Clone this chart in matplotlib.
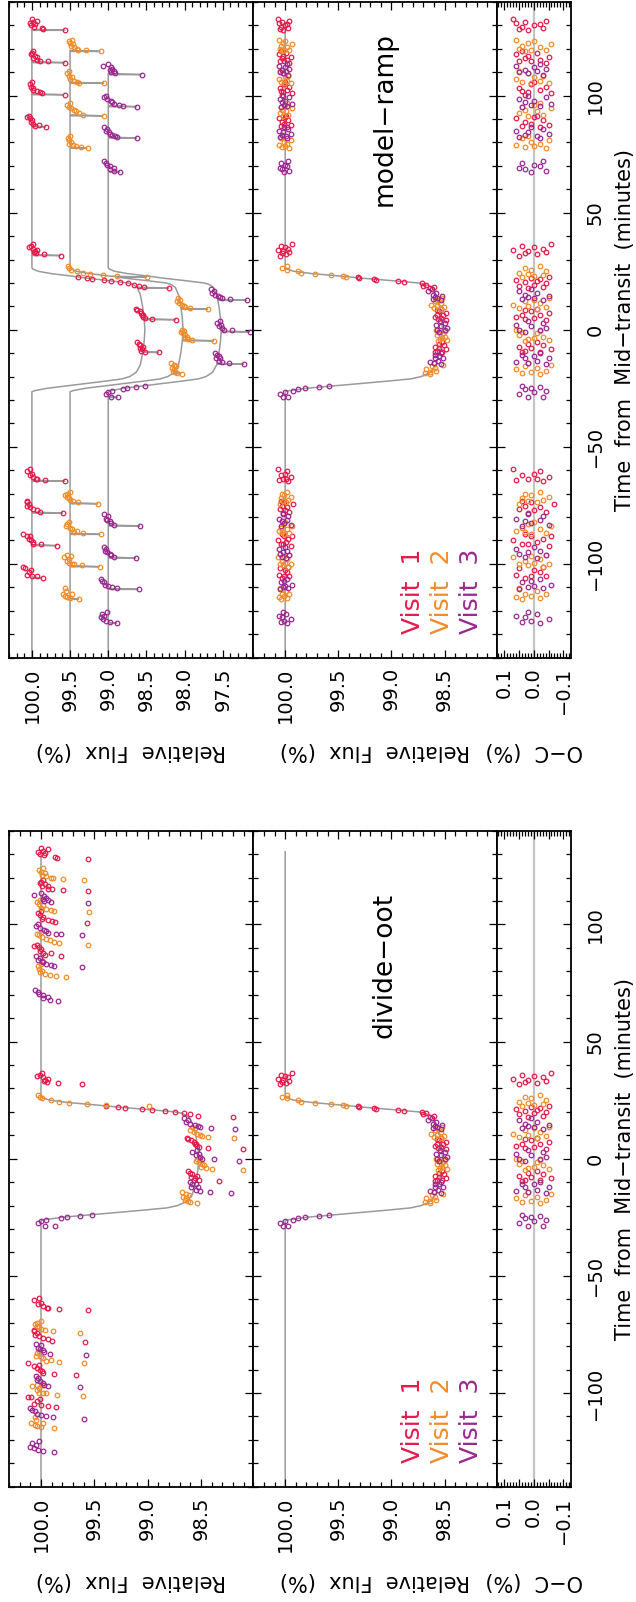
import numpy as np
import matplotlib
matplotlib.use("Agg")
import matplotlib.pyplot as plt
from matplotlib.ticker import MultipleLocator, FormatStrFormatter

plt.rcParams['font.family'] = ['DejaVu Sans']
plt.rcParams['axes.unicode_minus'] = True

# ---- transit model (time from mid-transit in min, relative flux in %) ----
mod_t = [-140, -26.5, -26, -25, -24, -23, -22, -21, -20, -19, -18, -15, -10, -5, 0,
         5, 10, 15, 18, 19, 19.5, 20, 21, 22, 23, 24, 25, 26, 26.5, 131]
mod_f = [100.0, 100.0, 99.96, 99.80, 99.55, 99.30, 99.05, 98.82, 98.72, 98.67, 98.63, 98.58, 98.55, 98.53, 98.52,
         98.53, 98.55, 98.58, 98.62, 98.66, 98.69, 98.75, 99.0, 99.27, 99.5, 99.75, 99.92, 99.99, 100.0, 100.0]

# ---- visit 1 ----
v1_n = [8, 9, 9, 9, 9, 10, 11, 10, 9, 9, 10, 10]
v1_t = [-106.0, -105.4, -105.0, -104.6, -103.6, -102.6, -101.9, -101.5,
        -92.2, -91.7, -91.5, -90.7, -90.0, -89.3, -88.3, -87.9, -87.4,
        -78.3, -77.9, -77.1, -76.5, -75.7, -75.4, -74.6, -73.6, -73.2,
        -64.7, -64.3, -63.9, -63.6, -62.9, -62.2, -61.5, -60.4, -59.6,
        -9.7, -9.3, -9.0, -8.1, -7.6, -7.2, -6.7, -6.2, -5.3,
        4.3, 4.5, 5.0, 5.4, 6.1, 6.4, 7.1, 7.8, 8.3, 8.8,
        17.8, 18.3, 18.9, 19.3, 20.0, 20.4, 20.8, 21.3, 21.7, 22.1, 22.4,
        31.7, 32.2, 32.6, 33.1, 33.6, 34.1, 34.7, 35.3, 35.9, 36.5,
        86.7, 87.1, 87.6, 87.9, 88.6, 89.6, 90.4, 90.7, 91.4,
        100.4, 101.0, 101.4, 101.8, 102.4, 103.3, 103.9, 105.0, 105.7,
        114.1, 114.6, 115.0, 115.3, 116.2, 116.4, 117.1, 117.6, 118.3, 119.0,
        127.9, 128.4, 128.9, 129.5, 130.0, 130.5, 131.0, 131.5, 132.0, 132.6]
v1_raw = [99.86, 99.93, 100.00, 100.07, 100.04, 100.01, 100.09, 100.12,
          99.67, 99.88, 99.98, 99.99, 100.01, 100.04, 100.07, 100.02, 100.12,
          99.59, 99.90, 99.93, 99.98, 100.02, 100.06, 100.04, 100.07, 100.07,
          99.56, 99.83, 99.93, 99.94, 99.98, 100.03, 100.00, 100.07, 100.02,
          98.33, 98.52, 98.57, 98.56, 98.59, 98.54, 98.58, 98.60, 98.62,
          98.11, 98.43, 98.52, 98.54, 98.56, 98.55, 98.57, 98.59, 98.62, 98.63,
          98.20, 98.53, 98.60, 98.66, 98.74, 98.84, 98.96, 99.05, 99.21, 99.28, 99.39,
          99.62, 99.84, 99.94, 99.97, 99.96, 99.93, 99.98, 100.04, 100.01, 99.99,
          99.81, 99.96, 99.91, 99.98, 100.01, 100.00, 100.02, 100.07, 100.04,
          99.57, 99.87, 99.90, 99.93, 99.99, 99.98, 100.01, 100.03, 100.00,
          99.56, 99.79, 99.90, 99.93, 99.99, 99.93, 99.96, 100.01, 100.00, 99.98,
          99.56, 99.85, 99.87, 99.97, 100.01, 99.96, 100.03, 99.98, 99.93, 100.00]
v1_res = [0.03, -0.04, 0.01, 0.06, -0.02, 0.00, 0.05, -0.03,
          -0.05, 0.02, 0.04, -0.01, 0.07, -0.03, 0.01, -0.06, 0.03,
          0.02, -0.04, 0.00, 0.05, -0.02, 0.03, -0.07, 0.01, 0.04,
          -0.03, 0.06, -0.01, 0.02, -0.05, 0.04, 0.00, -0.02, 0.07,
          0.04, -0.02, 0.03, -0.06, 0.01, 0.05, -0.03, 0.02, -0.01,
          -0.04, 0.03, 0.00, 0.06, -0.02, 0.04, -0.05, 0.01, 0.03, -0.01,
          0.02, -0.03, 0.05, 0.00, -0.04, 0.03, -0.01, 0.06, -0.02, 0.01, -0.05,
          0.05, -0.01, 0.03, -0.04, 0.02, 0.07, -0.03, 0.00, 0.04, -0.06,
          -0.02, 0.04, -0.05, 0.01, 0.03, -0.03, 0.06, 0.00, -0.01,
          0.03, -0.06, 0.02, 0.04, -0.02, 0.05, -0.04, 0.01, 0.00,
          -0.04, 0.01, 0.05, -0.02, 0.03, -0.05, 0.02, 0.06, -0.01, 0.04,
          0.02, 0.05, -0.03, 0.04, 0.00, -0.02, 0.06, 0.03, -0.04, 0.07]

# ---- visit 2 ----
v2_n = [8, 10, 9, 9, 9, 10, 9, 9, 9, 9, 9, 10]
v2_t = [-115.0, -114.6, -114.2, -113.6, -113.0, -112.7, -111.4, -110.4,
        -101.2, -100.7, -100.2, -99.9, -99.8, -98.9, -97.9, -97.2, -96.7, -96.4,
        -87.4, -86.9, -86.4, -85.8, -85.2, -84.6, -84.0, -83.0, -82.2,
        -74.3, -73.6, -73.1, -72.6, -72.0, -71.4, -70.7, -70.1, -69.4,
        -18.7, -18.4, -18.0, -17.5, -16.9, -16.2, -15.4, -14.9, -14.3,
        -4.7, -4.3, -3.9, -3.6, -2.9, -2.1, -1.5, -1.0, -0.5, -0.1,
        8.8, 9.3, 9.7, 10.3, 10.7, 11.4, 12.1, 12.9, 13.5,
        22.5, 22.8, 23.4, 23.8, 24.3, 25.0, 25.7, 26.4, 27.4,
        77.6, 78.1, 78.5, 78.9, 79.5, 80.0, 81.0, 82.1, 82.9,
        91.4, 91.9, 92.4, 93.3, 93.9, 94.7, 95.3, 96.1, 96.7,
        105.3, 105.6, 106.0, 106.4, 107.1, 108.1, 108.6, 109.6, 110.4,
        118.9, 119.3, 119.6, 120.0, 120.7, 121.0, 121.9, 122.4, 123.3, 123.9]
v2_raw = [99.88, 100.00, 100.04, 100.06, 99.98, 100.09, 100.05, 100.06,
          99.61, 99.85, 99.95, 99.98, 100.02, 100.04, 100.02, 100.08, 99.99, 100.04,
          99.60, 99.83, 99.95, 99.91, 99.98, 100.00, 100.05, 100.04, 100.02,
          99.63, 99.89, 99.96, 100.00, 100.02, 100.04, 100.06, 100.04, 100.00,
          98.54, 98.60, 98.62, 98.65, 98.64, 98.67, 98.61, 98.64, 98.68,
          98.11, 98.40, 98.45, 98.50, 98.47, 98.49, 98.52, 98.55, 98.51, 98.54,
          98.19, 98.43, 98.49, 98.51, 98.54, 98.57, 98.60, 98.56, 98.58,
          98.99, 99.39, 99.57, 99.74, 99.83, 99.91, 99.99, 100.01, 100.03,
          99.77, 99.86, 99.92, 99.96, 100.01, 99.99, 100.02, 100.03, 100.00,
          99.56, 99.83, 99.88, 99.92, 99.95, 99.99, 100.02, 100.04, 100.00,
          99.55, 99.88, 99.91, 99.95, 100.00, 99.98, 100.02, 100.04, 100.01,
          99.60, 99.79, 99.89, 99.91, 99.95, 99.99, 99.96, 100.00, 100.02, 99.98]
v2_res = [0.04, -0.02, 0.06, 0.01, -0.04, 0.03, -0.01, 0.05,
          -0.03, 0.02, 0.05, -0.05, 0.00, 0.03, -0.02, 0.07, 0.01, -0.04,
          0.01, -0.04, 0.03, 0.06, -0.02, 0.04, -0.06, 0.02, 0.00,
          0.05, -0.01, 0.02, -0.03, 0.04, -0.05, 0.01, 0.03, -0.02,
          -0.02, 0.04, 0.01, -0.04, 0.06, -0.01, 0.03, -0.06, 0.02,
          0.03, -0.05, 0.02, 0.00, -0.03, 0.05, -0.01, 0.04, -0.02, 0.06,
          -0.01, 0.05, -0.04, 0.02, 0.07, -0.02, 0.03, 0.00, -0.05,
          0.04, 0.00, -0.03, 0.02, 0.05, -0.04, 0.01, 0.03, -0.02,
          -0.04, 0.03, 0.00, 0.06, -0.02, 0.01, -0.05, 0.04, 0.02,
          0.02, -0.03, 0.05, -0.01, 0.03, -0.06, 0.04, 0.00, -0.02,
          -0.05, 0.01, 0.04, -0.02, 0.06, 0.00, -0.03, 0.02, 0.05,
          0.03, -0.04, 0.01, 0.05, -0.02, 0.04, -0.06, 0.02, 0.00, 0.06]

# ---- visit 3 ----
v3_n = [8, 8, 8, 8, 9, 9, 8, 9, 8, 9, 9, 9]
v3_t = [-125.3, -124.7, -124.3, -123.6, -122.9, -122.2, -121.5, -120.7,
        -110.9, -110.3, -109.7, -109.3, -108.9, -107.9, -107.2, -106.5,
        -97.5, -96.9, -96.4, -95.8, -95.0, -94.3, -93.6, -92.9,
        -83.8, -83.2, -82.6, -81.7, -81.4, -80.7, -79.7, -78.9,
        -28.9, -28.6, -27.6, -26.7, -26.1, -25.3, -25.0, -24.6, -24.0,
        -14.7, -14.3, -13.9, -13.3, -12.2, -11.9, -11.0, -10.7, -10.0,
        -0.9, -0.3, 0.0, 0.7, 1.4, 2.1, 2.8, 3.6,
        12.6, 13.1, 13.5, 13.8, 14.3, 15.0, 15.7, 16.7, 17.3,
        67.4, 67.9, 68.5, 69.1, 69.8, 70.5, 71.3, 72.1,
        81.9, 82.3, 82.8, 83.3, 83.8, 84.4, 85.0, 85.7, 86.4,
        95.3, 95.7, 96.1, 96.4, 97.1, 97.8, 98.6, 99.3, 100.0,
        109.0, 109.6, 110.0, 110.4, 111.0, 111.4, 112.1, 112.6, 113.6]
v3_raw = [99.88, 99.98, 100.03, 100.07, 100.10, 100.05, 100.08, 100.02,
          99.60, 99.89, 99.95, 100.00, 100.04, 100.06, 100.08, 100.10,
          99.63, 99.93, 99.97, 99.98, 100.01, 100.04, 100.03, 100.05,
          99.58, 99.92, 99.97, 99.98, 100.01, 100.03, 100.00, 100.05,
          99.87, 99.96, 100.03, 100.00, 99.95, 99.81, 99.76, 99.63, 99.52,
          98.22, 98.42, 98.51, 98.55, 98.53, 98.59, 98.55, 98.58, 98.60,
          98.14, 98.38, 98.49, 98.51, 98.55, 98.52, 98.58, 98.54,
          98.18, 98.41, 98.51, 98.53, 98.56, 98.60, 98.64, 98.62, 98.66,
          99.84, 99.92, 99.98, 99.93, 99.98, 100.02, 100.03, 100.06,
          99.62, 99.88, 99.91, 99.95, 99.98, 99.99, 100.03, 100.01, 100.05,
          99.62, 99.81, 99.86, 99.93, 99.95, 99.97, 100.01, 100.05, 100.03,
          99.56, 99.91, 99.97, 99.93, 99.98, 99.95, 99.97, 100.07, 100.00]
v3_res = [-0.02, 0.04, 0.01, -0.05, 0.03, 0.06, -0.01, 0.02,
          0.05, -0.03, 0.02, 0.00, -0.06, 0.04, 0.01, -0.02,
          -0.01, 0.03, -0.04, 0.05, 0.02, -0.02, 0.06, 0.00,
          0.04, -0.05, 0.01, 0.03, -0.02, 0.06, -0.03, 0.02,
          0.02, -0.03, 0.05, 0.00, -0.04, 0.03, 0.01, -0.02, 0.04,
          -0.04, 0.02, 0.06, -0.01, 0.03, -0.05, 0.00, 0.04, -0.02,
          0.03, -0.02, 0.05, -0.04, 0.01, 0.06, -0.03, 0.02,
          -0.03, 0.04, 0.00, 0.02, -0.05, 0.03, -0.01, 0.05, 0.01,
          0.01, -0.04, 0.03, 0.05, -0.02, 0.00, 0.04, -0.03,
          -0.02, 0.05, -0.01, 0.03, -0.05, 0.02, 0.06, -0.03, 0.01,
          0.04, -0.02, 0.01, -0.06, 0.03, 0.00, 0.05, -0.04, 0.02,
          -0.03, 0.02, 0.05, -0.01, 0.03, -0.04, 0.00, 0.06, -0.02]

visits = ["Visit  1", "Visit  2", "Visit  3"]
colors = ["#E8194B", "#F28C28", "#9C2791"]
offsets = [0.0, 0.5, 1.0]
oot_window = (-30, 37)   # orbit kept by divide-oot

data = [(np.array(v1_t), np.array(v1_raw), np.array(v1_res), v1_n),
        (np.array(v2_t), np.array(v2_raw), np.array(v2_res), v2_n),
        (np.array(v3_t), np.array(v3_raw), np.array(v3_res), v3_n)]

line_col = "#9a9a9a"
zero_col = "#c4c4c4"
mk = dict(marker='o', ls='none', mfc='none', ms=3.3, mew=0.9)

fig = plt.figure(figsize=(6.36, 16.02), dpi=100)
W, H = 636.0, 1602.0


def add_ax(x0, x1, ytop, ybot):
    return fig.add_axes([x0 / W, 1 - ybot / H, (x1 - x0) / W, (ybot - ytop) / H])


def ramp_line(t, raw, n):
    starts = np.cumsum([0] + list(n[:-1]))
    pt = [-140.0]
    pf = [mod_f[0]]
    for s in starts:
        t0 = t[s]
        for tt, ff in zip(mod_t, mod_f):
            if pt[-1] < tt < t0:
                pt.append(tt)
                pf.append(ff)
        m0 = np.interp(t0, mod_t, mod_f)
        pt += [t0, t0, t0 + 0.4]
        pf += [m0, raw[s] + 0.01, np.interp(t0 + 0.4, mod_t, mod_f)]
    return np.array(pt), np.array(pf)


def style(ax, kind):
    ax.set_ylim(-140, 140)
    ax.yaxis.set_major_locator(MultipleLocator(50))
    ax.yaxis.set_minor_locator(MultipleLocator(10))
    ax.tick_params(axis='both', which='both', direction='in', top=True, bottom=True,
                   left=True, right=True, labelleft=False, labelright=(kind == 'res'),
                   labelsize=14, width=0.9)
    ax.tick_params(which='major', length=6)
    ax.tick_params(which='minor', length=3.5)
    ax.tick_params(axis='x', pad=7, labelrotation=90)
    ax.tick_params(axis='y', pad=11, labelrotation=90)
    for sp in ax.spines.values():
        sp.set_linewidth(1.3)
    if kind == 'res':
        ax.set_xlim(0.125, -0.125)
        ax.set_xticks([0.1, 0.05, 0.0, -0.05, -0.1], ['0.1', '', '0.0', '', '\u22120.1'])
        ax.xaxis.set_minor_locator(MultipleLocator(0.01))
        for lb in ax.get_yticklabels():
            lb.set_va('center')
            lb.set_ha('left')
        ax.set_ylabel("Time  from  Mid\u2212transit  (minutes)", fontsize=15, rotation=90)
        ax.yaxis.set_label_position('right')
        ax.yaxis.set_label_coords(1.73, 0.5)
        ax.yaxis.label.set_va('center')
        ax.set_xlabel("O\u2212C  (%)", fontsize=15, rotation=180)
    else:
        ax.xaxis.set_major_locator(MultipleLocator(0.5))
        ax.xaxis.set_minor_locator(MultipleLocator(0.1))
        ax.xaxis.set_major_formatter(FormatStrFormatter('%.1f'))
        ax.set_xlabel("Relative  Flux  (%)", fontsize=15, rotation=180)
    ax.xaxis.set_label_coords(0.5, -0.143)
    ax.xaxis.label.set_va('center')


def block(ytop, ybot, method):
    a_raw = add_ax(9, 253.3, ytop, ybot)
    a_cor = add_ax(253.3, 496.7, ytop, ybot)
    a_res = add_ax(496.7, 570.7, ytop, ybot)

    # raw light curves
    if method == 'ramp':
        for (t, raw, res, n), c, off in zip(data, colors, offsets):
            lt, lf = ramp_line(t, raw, n)
            a_raw.plot(lf - off, lt, color=line_col, lw=1.1, zorder=1)
        for (t, raw, res, n), c, off in zip(data, colors, offsets):
            a_raw.plot(raw - off, t, color=c, zorder=2, **mk)
        a_raw.set_xlim(100.3, 97.1)
    else:
        a_raw.plot(mod_f, mod_t, color=line_col, lw=1.1, zorder=1)
        for (t, raw, res, n), c in zip(data, colors):
            a_raw.plot(raw, t, color=c, zorder=2, **mk)
        a_raw.set_xlim(100.3, 98.01)

    # corrected light curves and residuals
    a_cor.plot(mod_f, mod_t, color=line_col, lw=1.1, zorder=1)
    a_res.axvline(0, color=zero_col, lw=1.6, zorder=1)
    for (t, raw, res, n), c in zip(data, colors):
        if method == 'ramp':
            keep = np.ones(len(t), bool)
        else:
            keep = (t > oot_window[0]) & (t < oot_window[1])
        cor = np.interp(t, mod_t, mod_f) + res
        a_cor.plot(cor[keep], t[keep], color=c, zorder=2, **mk)
        a_res.plot(res[keep], t[keep], color=c, zorder=2, **mk)
    a_cor.set_xlim(100.3, 98.01)

    style(a_raw, 'flux')
    style(a_cor, 'flux')
    style(a_res, 'res')

    name = "model\u2212ramp" if method == 'ramp' else "divide\u2212oot"
    ypos = 0.821 if method == 'ramp' else 0.795
    a_cor.text(0.54, ypos, name, transform=a_cor.transAxes, rotation=90,
               ha='center', va='center', fontsize=19)
    for k, (lab, c) in enumerate(zip(visits, colors)):
        a_cor.text(0.656 + 0.119 * k, 0.036, lab, transform=a_cor.transAxes, rotation=90,
                   ha='center', va='bottom', fontsize=18, color=c)


block(2, 657.5, 'ramp')
block(830.7, 1486.7, 'div')

fig.savefig("out.png", dpi=100)
